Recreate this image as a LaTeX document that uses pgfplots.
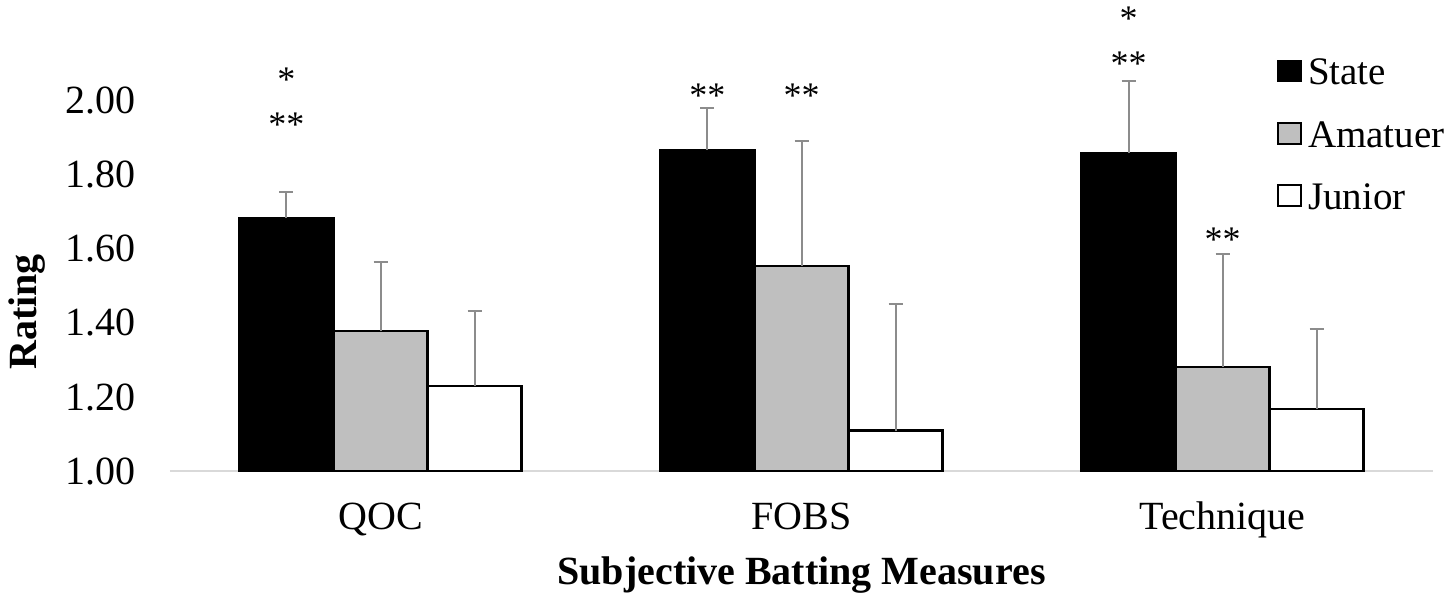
\documentclass[border=0pt]{standalone}
\usepackage{fontspec}
\setmainfont{Liberation Serif}
\usepackage{pgfplots}
\pgfplotsset{compat=1.18}
\definecolor{amgray}{HTML}{BFBFBF}
\definecolor{errgray}{HTML}{8C8C8C}
\definecolor{axgray}{HTML}{D9D9D9}
\newcommand{\tfont}{\fontsize{20pt}{22pt}\selectfont}
\newcommand{\lfont}{\fontsize{19.5pt}{21.5pt}\selectfont}
\newcommand{\afont}{\fontsize{18pt}{18pt}\selectfont}
\begin{document}
\begin{tikzpicture}
\path[use as bounding box] (-85pt,-62.75pt) rectangle (640pt,235.75pt);
\begin{axis}[
  scale only axis, width=631.5pt, height=241.475pt,
  xmin=-0.5, xmax=2.5, ymin=1, ymax=2.3,
  ybar=0pt, bar width=0.2233,
  axis x line*=bottom, axis y line*=left,
  x axis line style={-, draw=axgray, line width=1pt},
  y axis line style={draw=none},
  major tick length=0pt,
  xtick={0,1,2}, xticklabels={QOC,FOBS,Technique},
  ytick={1,1.2,1.4,1.6,1.8,2.0},
  /pgf/number format/fixed, /pgf/number format/fixed zerofill,
  /pgf/number format/precision=2, /pgf/number format/assume math mode=true,
  ticklabel style={font=\tfont},
  yticklabel style={anchor=east, inner sep=0pt, xshift=-17pt},
  xticklabel style={anchor=base, inner sep=0pt, yshift=-29.25pt},
  xlabel={Subjective Batting Measures},
  xlabel style={at={(axis description cs:0.5,-0.2350)}, anchor=base, inner sep=0pt, font=\tfont\bfseries},
  ylabel={Rating},
  ylabel style={at={(axis description cs:-0.1132,0.3303)}, anchor=center, inner sep=0pt, font=\tfont\bfseries},
  legend style={at={(axis description cs:0.8765,0.8633)}, anchor=north west, draw=none, fill=none, inner sep=0pt, row sep=12.8pt, font=\lfont,
    /tikz/every odd column/.append style={column sep=1pt}},
  legend cell align=left,
  legend image code/.code={\draw[#1, line width=0.8pt] (0pt,-4pt) rectangle (11.5pt,6.5pt);},
]
\addplot[fill=black, draw=black, line width=1.15pt, bar shift=-0.2233,
  error bars/.cd, y dir=plus, y explicit,
  error bar style={errgray, line width=1pt},
  error mark options={rotate=90, errgray, mark size=3.5pt, line width=1pt}]
  coordinates {(0,1.682) +- (0,0.071) (1,1.865) +- (0,0.114) (2,1.857) +- (0,0.195)};
\addplot[fill=amgray, draw=black, line width=1.15pt, bar shift=0,
  error bars/.cd, y dir=plus, y explicit,
  error bar style={errgray, line width=1pt},
  error mark options={rotate=90, errgray, mark size=3.5pt, line width=1pt}]
  coordinates {(0,1.378) +- (0,0.185) (1,1.554) +- (0,0.336) (2,1.282) +- (0,0.303)};
\addplot[fill=white, draw=black, line width=1.15pt, bar shift=0.2233,
  error bars/.cd, y dir=plus, y explicit,
  error bar style={errgray, line width=1pt},
  error mark options={rotate=90, errgray, mark size=3.5pt, line width=1pt}]
  coordinates {(0,1.231) +- (0,0.202) (1,1.110) +- (0,0.341) (2,1.168) +- (0,0.216)};
\legend{State,Amatuer,Junior}
\node[font=\afont, anchor=base, inner sep=0pt] at (axis cs:-0.2233,2.024) {*};
\node[font=\afont, anchor=base, inner sep=0pt] at (axis cs:-0.2233,1.903) {**};
\node[font=\afont, anchor=base, inner sep=0pt] at (axis cs:0.7767,1.981) {**};
\node[font=\afont, anchor=base, inner sep=0pt] at (axis cs:1,1.981) {**};
\node[font=\afont, anchor=base, inner sep=0pt] at (axis cs:1.7767,2.187) {*};
\node[font=\afont, anchor=base, inner sep=0pt] at (axis cs:1.7767,2.067) {**};
\node[font=\afont, anchor=base, inner sep=0pt] at (axis cs:2,1.591) {**};
\end{axis}
\end{tikzpicture}
\end{document}
